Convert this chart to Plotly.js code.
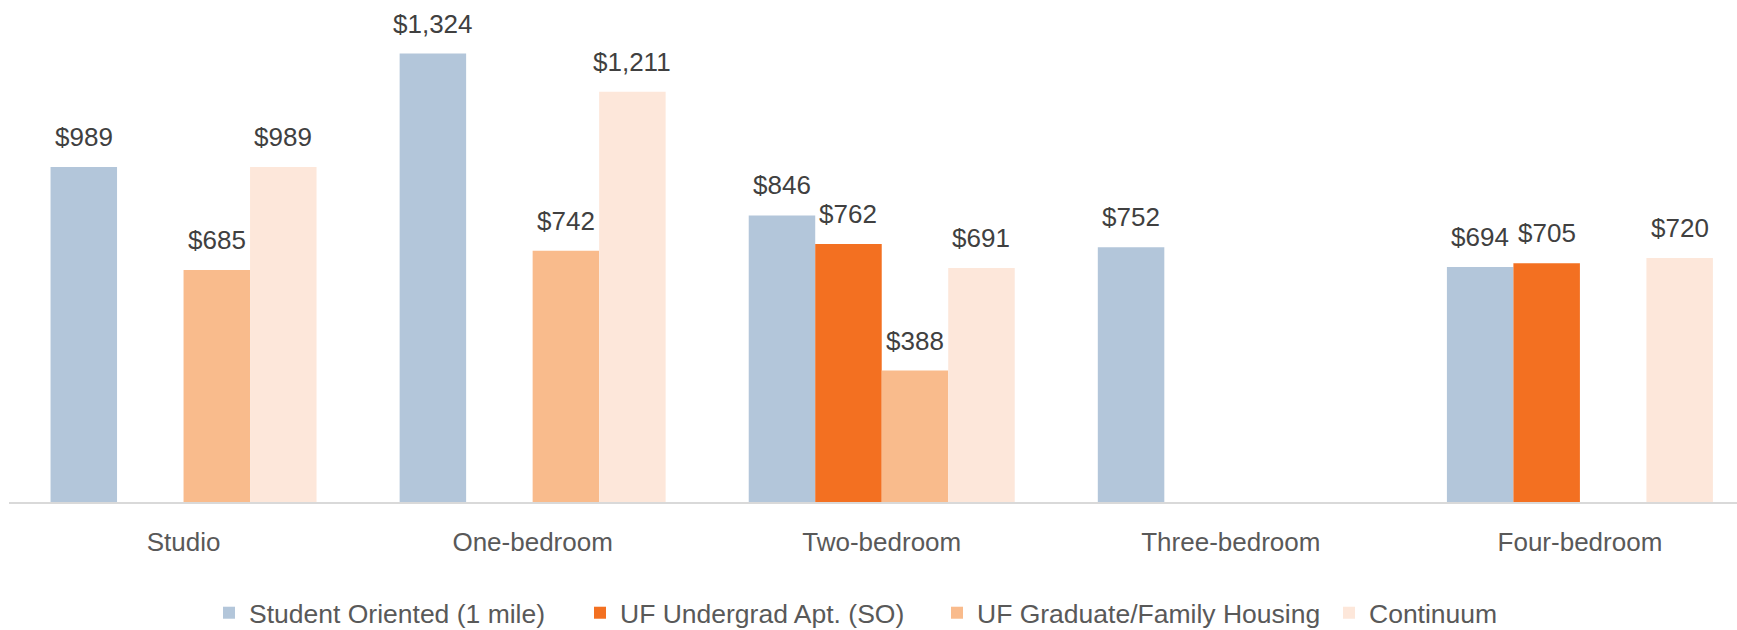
<!DOCTYPE html>
<html>
<head>
<meta charset="utf-8">
<script src="https://cdn.plot.ly/plotly-3.0.1.min.js"></script>
<style>
  html, body { margin: 0; padding: 0; background: #ffffff; }
  #chart { width: 1737px; height: 630px; }
</style>
</head>
<body>
<div id="chart"></div>
<script>
const categories = ["Studio", "One-bedroom", "Two-bedroom", "Three-bedroom", "Four-bedroom"];
const seriesNames = ["Student Oriented (1 mile)", "UF Undergrad Apt. (SO)", "UF Graduate/Family Housing", "Continuum"];
const studentOriented = [989, 1324, 846, 752, 694];
const ufUndergrad = [null, null, 762, null, 705];
const ufGraduate = [685, 742, 388, null, null];
const continuum = [989, 1211, 691, null, 720];
const seriesValues = [studentOriented, ufUndergrad, ufGraduate, continuum];
const seriesColors = ["#B3C6DA", "#F37021", "#F9BB8C", "#FDE7DA"];

const W = 1737, H = 630;
const margin = {l: 9, r: 0, t: 20, b: 128};
const xRange = [-0.5, 4.45];
const yRange = [0, 1423];
const bargap = 0.238;
const FONT = "Liberation Sans, Arial, sans-serif";
// left edge (px) of each legend entry's text in the page
const legendTextX = [249, 620, 977, 1369];
const legendIds = ["legend", "legend2", "legend3", "legend4"];

const traces = seriesValues.map((vals, i) => ({
  type: "bar",
  name: seriesNames[i],
  x: categories,
  y: vals,
  legend: legendIds[i],
  marker: {color: seriesColors[i], line: {width: 0}},
  hoverinfo: "skip"
}));

const plotW = W - margin.l - margin.r;
const catPx = plotW / (xRange[1] - xRange[0]);
const barW = catPx * (1 - bargap) / seriesValues.length;

const annotations = [];
seriesValues.forEach((vals, i) => {
  vals.forEach((v, j) => {
    if (v === null) return;
    annotations.push({
      x: categories[j], y: v, xref: "x", yref: "y",
      text: "$" + v.toLocaleString("en-US"),
      showarrow: false,
      xanchor: "center", yanchor: "bottom",
      xshift: (i - (seriesValues.length - 1) / 2) * barW,
      yshift: 13,
      font: {family: FONT, size: 26, color: "#404040"}
    });
  });
});

const layout = {
  width: W, height: H,
  margin: margin,
  paper_bgcolor: "#ffffff",
  plot_bgcolor: "#ffffff",
  barmode: "group",
  bargap: bargap,
  bargroupgap: 0,
  showlegend: true,
  font: {family: FONT, color: "#595959"},
  xaxis: {
    type: "category",
    range: xRange,
    showline: true, linecolor: "#D9D9D9", linewidth: 2,
    showgrid: false, zeroline: false,
    ticks: "", ticklabelstandoff: 16,
    tickfont: {size: 26, color: "#595959"},
    fixedrange: true
  },
  yaxis: {
    range: yRange,
    visible: false,
    showgrid: false, zeroline: false,
    fixedrange: true
  },
  annotations: annotations
};

legendIds.forEach((id, i) => {
  layout[id] = {
    orientation: "h",
    xref: "container", yref: "container",
    x: (legendTextX[i] - 40) / W, xanchor: "left",
    y: (H - 613) / H, yanchor: "middle",
    bgcolor: "rgba(0,0,0,0)",
    font: {size: 26.5, color: "#595959"},
    itemclick: false, itemdoubleclick: false
  };
});

Plotly.newPlot("chart", traces, layout, {displayModeBar: false, staticPlot: true});
</script>
</body>
</html>
